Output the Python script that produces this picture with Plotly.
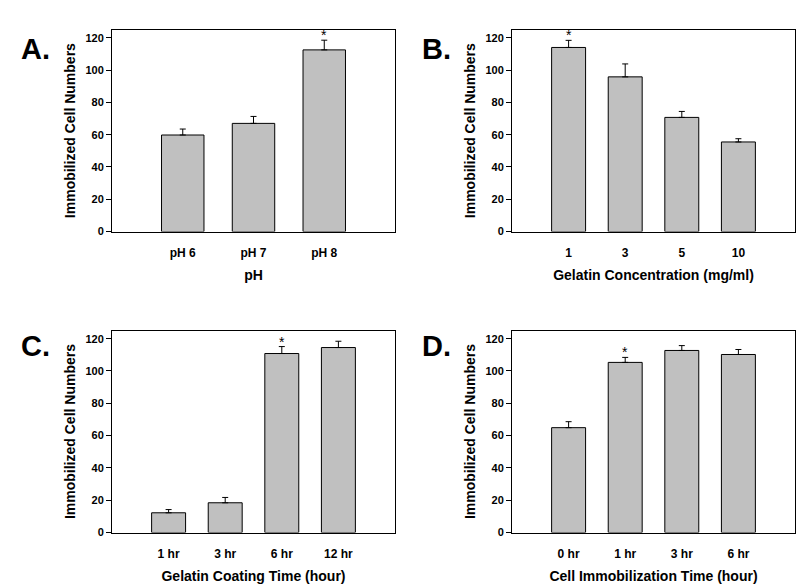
import plotly.graph_objects as go

# ---- data ----
ph_labels = ["pH 6", "pH 7", "pH 8"]
ph_values = [59.8, 67.0, 112.5]
ph_errors = [3.7, 4.3, 6.0]
ph_star = [False, False, True]

conc_labels = ["1", "3", "5", "10"]
conc_values = [114.0, 95.8, 70.7, 55.5]
conc_errors = [4.4, 8.0, 3.7, 2.0]
conc_star = [True, False, False, False]

coat_labels = ["1 hr", "3 hr", "6 hr", "12 hr"]
coat_values = [12.2, 18.4, 110.8, 114.5]
coat_errors = [2.0, 3.3, 4.3, 3.9]
coat_star = [False, False, True, False]

immob_labels = ["0 hr", "1 hr", "3 hr", "6 hr"]
immob_values = [64.9, 105.3, 112.7, 110.2]
immob_errors = [3.7, 3.1, 3.0, 3.1]
immob_star = [False, True, False, False]

y_title = "Immobilized Cell Numbers"
x_titles = ["pH", "Gelatin Concentration (mg/ml)",
            "Gelatin Coating Time (hour)", "Cell Immobilization Time (hour)"]
panel_letters = ["A.", "B.", "C.", "D."]

W, H = 811, 587
FONT = "Arial, Liberation Sans, sans-serif"

panels = [
    (ph_labels, ph_values, ph_errors, ph_star),
    (conc_labels, conc_values, conc_errors, conc_star),
    (coat_labels, coat_values, coat_errors, coat_star),
    (immob_labels, immob_values, immob_errors, immob_star),
]

# pixel boxes: (left, right, top, bottom)
boxes = [(112, 395, 30, 234), (512, 795, 30, 234),
         (112, 395, 334, 538), (512, 795, 334, 538)]
letter_pos = [(19, 49.5), (420, 49.5), (19, 350), (420, 350)]

fig = go.Figure()
annotations = []
layout = {}
for i, ((labels, vals, errs, stars), box) in enumerate(zip(panels, boxes)):
    n = i + 1
    xa = "x" if n == 1 else f"x{n}"
    ya = "y" if n == 1 else f"y{n}"
    fig.add_trace(go.Bar(
        x=labels, y=vals, width=0.6,
        marker=dict(color="#c0c0c0", line=dict(color="black", width=1)),
        error_y=dict(type="data", symmetric=False, array=errs,
                     arrayminus=[0] * len(errs), color="black",
                     thickness=1, width=3),
        xaxis=xa, yaxis=ya, showlegend=False, hoverinfo="skip",
    ))
    l, r, t, b = box
    layout[f"xaxis{'' if n == 1 else n}"] = dict(
        domain=[l / W, r / W], anchor=ya, type="category",
        range=[-1, len(labels)], showline=True, mirror=True,
        linecolor="black", linewidth=1, ticks="", showgrid=False,
        tickmode="array", tickvals=labels,
        ticktext=[f"<b>{t}</b>" for t in labels],
        tickfont=dict(family=FONT, size=12, color="black"),
        title=dict(text=f"<b>{x_titles[i]}</b>", standoff=11,
                   font=dict(family=FONT, size=14, color="black")),
        ticklabelstandoff=10, fixedrange=True,
    )
    layout[f"yaxis{'' if n == 1 else n}"] = dict(
        domain=[1 - b / H, 1 - t / H], anchor=xa,
        range=[0, 125], dtick=20, tick0=0, showline=True, mirror=True,
        linecolor="black", linewidth=1, ticks="outside", ticklen=5,
        tickcolor="black", showgrid=False, zeroline=False,
        tickfont=dict(family=FONT, size=11, color="black"),
        tickprefix="<b>", ticksuffix="</b>",
        title=dict(text=f"<b>{y_title}</b>", standoff=6,
                   font=dict(family=FONT, size=14, color="black")),
        fixedrange=True,
    )
    for idx, (v, e, s) in enumerate(zip(vals, errs, stars)):
        if s:
            annotations.append(dict(
                x=idx, y=v + e, xref=xa, yref=ya, text="*",
                showarrow=False, yanchor="middle", yshift=5,
                font=dict(family=FONT, size=14, color="black")))
    lx, ly = letter_pos[i]
    annotations.append(dict(
        x=lx / W, y=1 - ly / H, xref="paper", yref="paper",
        text=f"<b>{panel_letters[i]}</b>", showarrow=False,
        xanchor="left", yanchor="middle",
        font=dict(family=FONT, size=29, color="black")))

fig.update_layout(
    width=W, height=H, margin=dict(l=0, r=0, t=0, b=0),
    paper_bgcolor="white", plot_bgcolor="white",
    annotations=annotations, **layout,
)
fig.write_html("out.html", config={"displayModeBar": False},
               post_script="document.body.style.margin='0';"
                           "document.body.style.overflow='hidden';")
